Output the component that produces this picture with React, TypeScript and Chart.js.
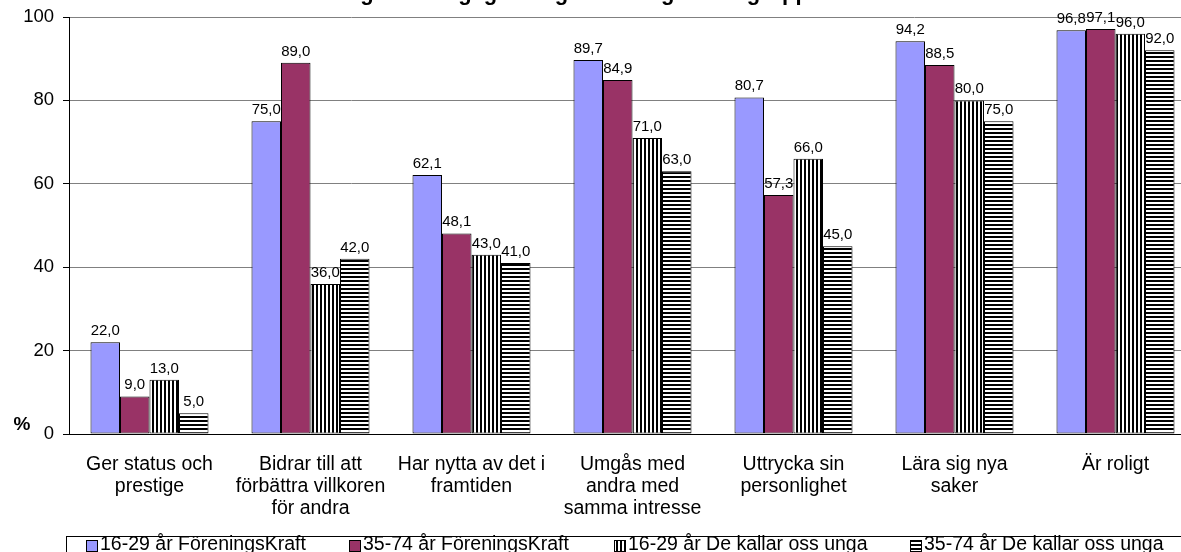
import React, { useEffect, useRef } from 'react';
import { Chart, registerables } from 'chart.js';

Chart.register(...registerables);

// ---- data ----
const categories: string[][] = [
  ['Ger status och', 'prestige'],
  ['Bidrar till att', 'förbättra villkoren', 'för andra'],
  ['Har nytta av det i', 'framtiden'],
  ['Umgås med', 'andra med', 'samma intresse'],
  ['Uttrycka sin', 'personlighet'],
  ['Lära sig nya', 'saker'],
  ['Är roligt'],
];
const seriesLabels = [
  '16-29 år FöreningsKraft',
  '35-74 år FöreningsKraft',
  '16-29 år De kallar oss unga',
  '35-74 år De kallar oss unga',
];
const fk1629 = [22.0, 75.0, 62.1, 89.7, 80.7, 94.2, 96.8];
const fk3574 = [9.0, 89.0, 48.1, 84.9, 57.3, 88.5, 97.1];
const dkou1629 = [13.0, 36.0, 43.0, 71.0, 66.0, 80.0, 96.0];
const dkou3574 = [5.0, 42.0, 41.0, 63.0, 45.0, 75.0, 92.0];
const yMin = 0;
const yMax = 100;
const yStep = 20;
const titleText = 'Anledningar till engagemang i föreningar och grupper';
const yAxisTitle = '%';

// ---- layout ----
const W = 1220;
const H = 600;
const OFFSET = 40; // canvas is shifted up so the title is cut off like the reference
const FONT = '"Liberation Sans", Arial, Helvetica, sans-serif';

function stripePattern(vertical: boolean): CanvasPattern {
  const c = document.createElement('canvas');
  c.width = 4;
  c.height = 4;
  const ctx = c.getContext('2d')!;
  ctx.fillStyle = '#ffffff';
  ctx.fillRect(0, 0, 4, 4);
  ctx.fillStyle = '#000000';
  if (vertical) ctx.fillRect(0, 0, 2, 4);
  else ctx.fillRect(0, 0, 4, 2);
  return ctx.createPattern(c, 'repeat')!;
}

export default function App() {
  const ref = useRef<HTMLCanvasElement | null>(null);

  useEffect(() => {
    const canvas = ref.current;
    if (!canvas) return;
    const vPat = stripePattern(true);
    const hPat = stripePattern(false);
    const fills: (string | CanvasPattern)[] = ['#9999FF', '#993366', vPat, hPat];
    const seriesData = [fk1629, fk3574, dkou1629, dkou3574];

    const extras = {
      id: 'extras',
      afterDatasetsDraw(chart: any) {
        const ctx = chart.ctx as CanvasRenderingContext2D;
        ctx.save();
        // data labels
        ctx.font = `15px ${FONT}`;
        ctx.fillStyle = '#000';
        ctx.textAlign = 'center';
        ctx.textBaseline = 'alphabetic';
        chart.data.datasets.forEach((ds: any, i: number) => {
          const meta = chart.getDatasetMeta(i);
          meta.data.forEach((el: any, j: number) => {
            const v = ds.data[j] as number;
            ctx.fillText(v.toFixed(1).replace('.', ','), el.x, el.y - 7);
          });
        });
        ctx.restore();
      },
      afterDraw(chart: any) {
        const ctx = chart.ctx as CanvasRenderingContext2D;
        ctx.save();
        // title (mostly clipped at top)
        ctx.font = `bold 22px ${FONT}`;
        ctx.fillStyle = '#000';
        ctx.textAlign = 'center';
        ctx.textBaseline = 'alphabetic';
        ctx.fillText(titleText, 548, OFFSET - 0.5);
        // % axis title
        ctx.font = `bold 19px ${FONT}`;
        ctx.textBaseline = 'middle';
        ctx.fillText(yAxisTitle, 22, OFFSET + 425);
        // legend box
        ctx.strokeStyle = '#000';
        ctx.lineWidth = 1;
        ctx.strokeRect(66.5, OFFSET + 536.5, 2000, 200);
        const itemX = [86, 349, 614, 910];
        ctx.font = `19.5px ${FONT}`;
        ctx.textAlign = 'left';
        ctx.textBaseline = 'middle';
        seriesLabels.forEach((lab, i) => {
          const x = itemX[i];
          const y = OFFSET + 540;
          ctx.fillStyle = fills[i] as any;
          ctx.fillRect(x, y, 12, 12);
          ctx.strokeStyle = '#000';
          ctx.strokeRect(x + 0.5, y + 0.5, 11, 11);
          ctx.fillStyle = '#000';
          ctx.fillText(lab, x + 14, OFFSET + 545);
        });
        ctx.restore();
      },
    };

    const chart = new Chart(canvas, {
      type: 'bar',
      data: {
        labels: categories as any,
        datasets: seriesData.map((d, i) => ({
          label: seriesLabels[i],
          data: d,
          backgroundColor: fills[i] as any,
          borderColor: '#000',
          borderWidth: 1,
          borderSkipped: false,
          categoryPercentage: 0.733,
          barPercentage: 1.0,
        })),
      },
      options: {
        responsive: false,
        animation: false,
        devicePixelRatio: 1,
        layout: { padding: { top: OFFSET + 17, right: W - 1196, left: 0, bottom: 0 } },
        plugins: {
          legend: { display: false },
          title: { display: false },
          tooltip: { enabled: false },
        },
        scales: {
          x: {
            grid: { display: false },
            border: { display: true, color: '#000', width: 1 },
            ticks: {
              color: '#000',
              font: { family: FONT, size: 19.5, lineHeight: 1.13 },
              padding: 12,
              maxRotation: 0,
              autoSkip: false,
            },
            afterFit: (s: any) => {
              s.height = H - (OFFSET + 434);
            },
          },
          y: {
            min: yMin,
            max: yMax,
            border: { display: true, color: '#000', width: 1 },
            grid: {
              color: '#808080',
              tickColor: '#000',
              tickLength: 6,
              drawTicks: true,
            },
            ticks: {
              stepSize: yStep,
              color: '#000',
              font: { family: FONT, size: 18.5 },
              padding: 9,
            },
            afterFit: (s: any) => {
              s.width = 69;
            },
          },
        },
      },
      plugins: [extras],
    });

    return () => chart.destroy();
  }, []);

  return (
    <div
      style={{
        position: 'fixed',
        left: 0,
        top: 0,
        width: 1181,
        height: 552,
        overflow: 'hidden',
        background: '#fff',
      }}
    >
      <canvas
        ref={ref}
        width={W}
        height={H}
        style={{ position: 'absolute', left: 0, top: -OFFSET, width: W, height: H }}
      />
    </div>
  );
}
